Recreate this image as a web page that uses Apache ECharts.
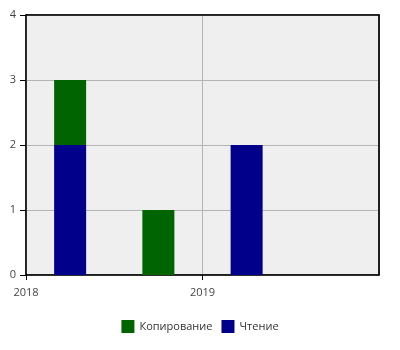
<!DOCTYPE html>
<html>
<head>
<meta charset="utf-8">
<script src="https://cdn.jsdelivr.net/npm/echarts@6/dist/echarts.min.js"></script>
<style>html,body{margin:0;padding:0;background:#fff}#c{width:400px;height:350px}</style>
</head>
<body>
<div id="c"></div>
<script>
var periods = ['2018 H1', '2018 H2', '2019 H1', '2019 H2'];
var readValues = [2, 0, 2, 0];
var copyValues = [1, 1, 0, 0];
var yearTicks = [2018, 2019];
var yearRange = [2018, 2020];
var seriesNames = ['Копирование', 'Чтение'];

var font = 'Open Sans, DejaVu Sans, sans-serif';
var chart = echarts.init(document.getElementById('c'), null, {renderer: 'canvas'});
chart.setOption({
  animation: false,
  backgroundColor: '#ffffff',
  grid: {left: 26, right: 21, top: 15, bottom: 75, show: true, backgroundColor: '#efefef', borderColor: '#000', borderWidth: 1, containLabel: false},
  legend: {
    data: seriesNames, bottom: 12, left: 'center', itemWidth: 13, itemHeight: 13, itemGap: 9,
    icon: 'rect',
    textStyle: {fontFamily: font, fontSize: 11, color: '#333'}
  },
  xAxis: [{
    type: 'category', data: periods, boundaryGap: true,
    axisLine: {show: false}, axisTick: {show: false}, axisLabel: {show: false}, splitLine: {show: false}
  }, {
    type: 'value', min: yearRange[0], max: yearRange[1], interval: 1, position: 'bottom',
    axisLine: {show: true, onZero: false, lineStyle: {color: '#000', width: 1.5}},
    axisTick: {show: true, length: 5, lineStyle: {color: '#000'}, customValues: yearTicks},
    axisLabel: {fontFamily: font, fontSize: 11, color: '#444', margin: 12, customValues: yearTicks,
      formatter: function(v){ return String(Math.round(v)); }},
    splitLine: {show: true, lineStyle: {color: '#b4b4b4', width: 1}}
  }, {
    type: 'value', min: yearRange[0], max: yearRange[1], position: 'top',
    axisLine: {show: true, onZero: false, lineStyle: {color: '#000', width: 1.5}},
    axisTick: {show: false}, axisLabel: {show: false}, splitLine: {show: false}
  }],
  yAxis: [{
    type: 'value', min: 0, max: 4, interval: 1,
    axisLine: {show: true, lineStyle: {color: '#000', width: 1.5}},
    axisTick: {show: true, length: 6, lineStyle: {color: '#000'}},
    axisLabel: {fontFamily: font, fontSize: 11, color: '#444', margin: 10},
    splitLine: {show: true, lineStyle: {color: '#b4b4b4', width: 1}}
  }, {
    type: 'value', min: 0, max: 4, position: 'right',
    axisLine: {show: true, onZero: false, lineStyle: {color: '#000', width: 1.5}},
    axisTick: {show: false}, axisLabel: {show: false}, splitLine: {show: false}
  }],
  series: [{
    name: 'Чтение', type: 'bar', stack: 'a', barWidth: 32, xAxisIndex: 0,
    itemStyle: {color: '#00008b'},
    data: readValues
  }, {
    name: 'Копирование', type: 'bar', stack: 'a', barWidth: 32, xAxisIndex: 0,
    itemStyle: {color: '#006400'},
    data: copyValues
  }]
});
</script>
</body>
</html>
